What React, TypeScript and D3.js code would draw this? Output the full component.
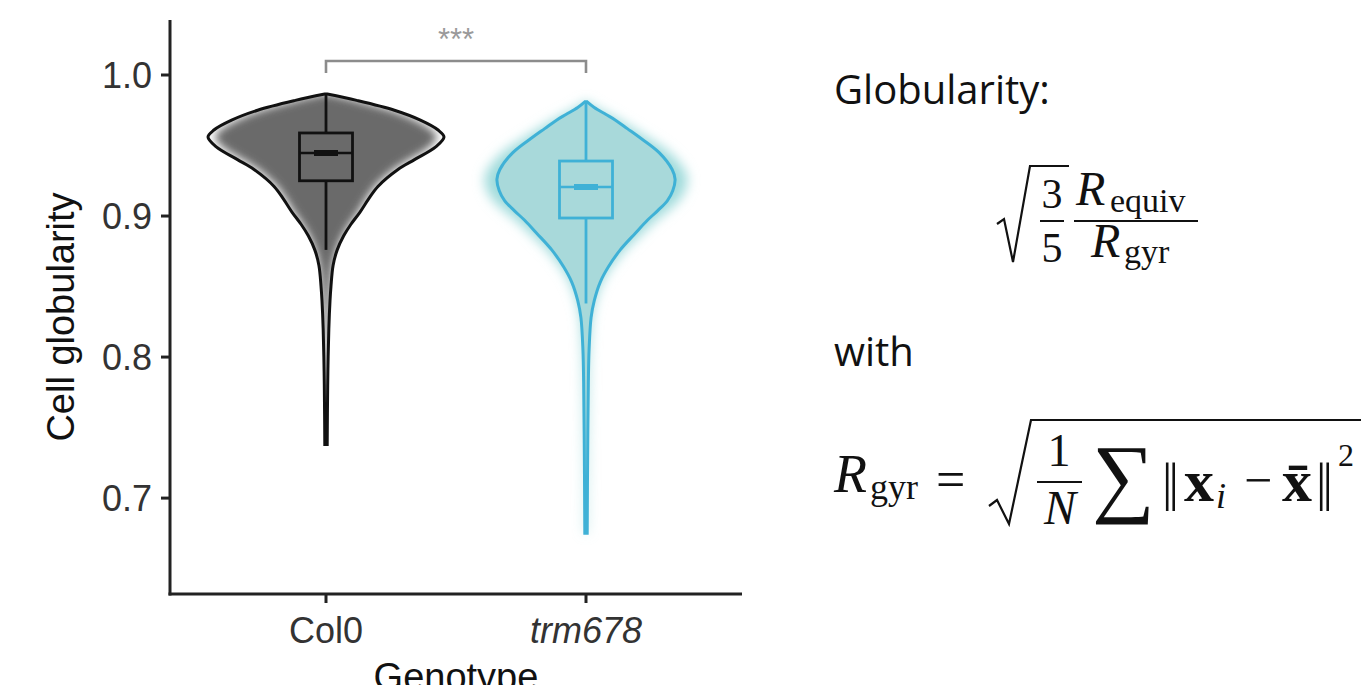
import React, { useRef, useEffect } from 'react'
import * as d3 from 'd3'

// genotypes on the x axis
const genotypes = ['Col0', 'trm678']

// violin outlines: value along y, relative density (Col0 peak = 1)
const col0Values = [0.9865, 0.982, 0.975, 0.968, 0.961, 0.956, 0.949, 0.940, 0.933, 0.921, 0.912, 0.903, 0.894, 0.886, 0.876, 0.865, 0.850, 0.840, 0.820, 0.790, 0.760, 0.738]
const col0Density = [0, 0.26, 0.58, 0.80, 0.95, 1.0, 0.93, 0.75, 0.61, 0.44, 0.36, 0.29, 0.21, 0.15, 0.095, 0.06, 0.042, 0.034, 0.024, 0.016, 0.012, 0.008]

const trmValues = [0.981, 0.977, 0.972, 0.968, 0.962, 0.956, 0.945, 0.933, 0.926, 0.918, 0.911, 0.904, 0.897, 0.888, 0.876, 0.864, 0.853, 0.840, 0.828, 0.805, 0.782, 0.730, 0.675]
const trmDensity = [0, 0.07, 0.17, 0.25, 0.35, 0.45, 0.62, 0.73, 0.755, 0.735, 0.69, 0.61, 0.52, 0.42, 0.29, 0.19, 0.12, 0.07, 0.043, 0.026, 0.02, 0.014, 0.01]

// box plot statistics [lower whisker, q1, median, q3, upper whisker]
const col0Box = [0.876, 0.925, 0.9447, 0.9589, 0.9865]
const trmBox = [0.838, 0.8986, 0.9206, 0.939, 0.981]

const yTicks = [0.7, 0.8, 0.9, 1.0]

const App = () => {
    const element = useRef(null)

    useEffect(() => {
        const root = d3.select(element.current)
        root.selectAll('*').remove()

        const svg = root.append('svg')
            .attr('width', 1361)
            .attr('height', 685)
            .style('position', 'absolute')
            .style('left', 0)
            .style('top', 0)
            .style('background', '#fff')

        const left = 170, right = 742, top = 20, bottom = 594

        const y = d3.scaleLinear().domain([0.632, 1.039]).range([bottom, top])
        const x = d3.scalePoint().domain(genotypes).range([left, right]).padding(0.6)
        const w = d3.scaleLinear().domain([0, 1]).range([0, 118])

        const defs = svg.append('defs')
        defs.append('filter').attr('id', 'glow').attr('x', '-30%').attr('y', '-30%').attr('width', '160%').attr('height', '160%')
            .append('feGaussianBlur').attr('stdDeviation', 6)
        defs.append('filter').attr('id', 'soft').attr('x', '-30%').attr('y', '-30%').attr('width', '160%').attr('height', '160%')
            .append('feGaussianBlur').attr('stdDeviation', 4.5)

        const violin = (cx, vals, dens, scaleW) => d3.area()
            .y((_, i) => y(vals[i]))
            .x0((_, i) => cx - Math.max(w(dens[i]) * scaleW, 1.2))
            .x1((_, i) => cx + Math.max(w(dens[i]) * scaleW, 1.2))
            .curve(d3.curveCatmullRom)(vals)

        const font = "'Liberation Sans', Arial, sans-serif"

        // ---- Col0 violin
        const c0 = x('Col0')
        defs.append('clipPath').attr('id', 'clip0').append('path').attr('d', violin(c0, col0Values, col0Density, 1))
        svg.append('path').attr('d', violin(c0, col0Values, col0Density, 1)).attr('fill', '#fff')
        svg.append('g').attr('clip-path', 'url(#clip0)')
            .append('path').attr('d', violin(c0, col0Values, col0Density, 0.94))
            .attr('fill', '#6a6a6a').attr('filter', 'url(#soft)')
        svg.append('path').attr('d', violin(c0, col0Values, col0Density, 1))
            .attr('fill', 'none').attr('stroke', '#111').attr('stroke-width', 3)

        // ---- trm678 violin
        const c1 = x('trm678')
        svg.append('path').attr('d', violin(c1, trmValues, trmDensity, 1.14))
            .attr('fill', '#a0dbdb').attr('filter', 'url(#glow)')
        svg.append('path').attr('d', violin(c1, trmValues, trmDensity, 1))
            .attr('fill', '#a8d9da')
            .attr('stroke', '#3fb1d6').attr('stroke-width', 3)

        // ---- box plots
        const box = (cx, st, color) => {
            const g = svg.append('g').attr('stroke', color).attr('fill', 'none')
            g.append('line').attr('x1', cx).attr('x2', cx).attr('y1', y(st[4])).attr('y2', y(st[3])).attr('stroke-width', 2.8)
            g.append('line').attr('x1', cx).attr('x2', cx).attr('y1', y(st[1])).attr('y2', y(st[0])).attr('stroke-width', 2.8)
            g.append('rect').attr('x', cx - 26.5).attr('width', 53)
                .attr('y', y(st[3])).attr('height', y(st[1]) - y(st[3])).attr('stroke-width', 2.8)
            g.append('line').attr('x1', cx - 26.5).attr('x2', cx + 26.5).attr('y1', y(st[2])).attr('y2', y(st[2])).attr('stroke-width', 2.6)
            g.append('line').attr('x1', cx - 12).attr('x2', cx + 12).attr('y1', y(st[2])).attr('y2', y(st[2])).attr('stroke-width', 6)
        }
        box(c0, col0Box, '#111')
        box(c1, trmBox, '#3fb1d6')

        // ---- significance bracket
        const by = 61
        svg.append('path')
            .attr('d', `M${c0},${by + 12}V${by}H${c1}V${by + 12}`)
            .attr('fill', 'none').attr('stroke', '#8c8c8c').attr('stroke-width', 2.6)
        svg.append('text').attr('x', (c0 + c1) / 2).attr('y', 50)
            .attr('text-anchor', 'middle').attr('font-family', font).attr('font-size', 31)
            .attr('fill', '#9a9a9a').text('***')

        // ---- axes
        const axes = svg.append('g').attr('stroke', '#222').attr('stroke-width', 3)
        axes.append('line').attr('x1', left).attr('x2', left).attr('y1', top).attr('y2', bottom + 1.5)
        axes.append('line').attr('x1', left - 1.5).attr('x2', right).attr('y1', bottom).attr('y2', bottom)
        yTicks.forEach(t => {
            axes.append('line').attr('x1', left - 9).attr('x2', left).attr('y1', y(t)).attr('y2', y(t))
            svg.append('text').attr('x', left - 18).attr('y', y(t)).attr('dy', '0.36em')
                .attr('text-anchor', 'end').attr('font-family', font).attr('font-size', 36)
                .attr('fill', '#333').text(d3.format('.1f')(t))
        })
        genotypes.forEach(g => {
            axes.append('line').attr('x1', x(g)).attr('x2', x(g)).attr('y1', bottom).attr('y2', bottom + 9)
            svg.append('text').attr('x', x(g)).attr('y', 643)
                .attr('text-anchor', 'middle').attr('font-family', font).attr('font-size', 36)
                .attr('font-style', g === 'Col0' ? 'normal' : 'italic')
                .attr('fill', '#333').text(g)
        })
        svg.append('text').attr('transform', `translate(74,${(top + bottom) / 2 + 10}) rotate(-90)`)
            .attr('text-anchor', 'middle').attr('font-family', font).attr('font-size', 38)
            .attr('fill', '#111').text('Cell globularity')
        svg.append('text').attr('x', (left + right) / 2).attr('y', 690)
            .attr('text-anchor', 'middle').attr('font-family', font).attr('font-size', 38)
            .attr('fill', '#111').text('Genotype')

        // ---- formulas on the right
        const sans = "'Open Sans', 'DejaVu Sans', sans-serif"
        const serif = "'Liberation Serif', 'DejaVu Serif', serif"
        const txt = (tx, ty, s, size, opts = {}) => {
            const t = svg.append('text').attr('x', tx).attr('y', ty)
                .attr('font-family', opts.family || serif).attr('font-size', size)
                .attr('fill', '#111').text(s)
            if (opts.italic) t.attr('font-style', 'italic')
            if (opts.bold) t.attr('font-weight', 'bold')
            if (opts.anchor) t.attr('text-anchor', opts.anchor)
            if (opts.ls) t.attr('letter-spacing', opts.ls)
            return t
        }
        const ink = svg.append('g').attr('stroke', '#111').attr('fill', 'none')

        txt(834, 104, 'Globularity:', 40, { family: sans })
        txt(834, 366, 'with', 40, { family: sans })

        // sqrt(3/5) R_equiv / R_gyr
        ink.append('path').attr('d', 'M997,224 L1004,219 L1013,262 L1030,166 L1069,166').attr('stroke-width', 2.2)
        txt(1052, 208, '3', 42, { anchor: 'middle' })
        ink.append('line').attr('x1', 1040).attr('x2', 1064).attr('y1', 221).attr('y2', 221).attr('stroke-width', 2)
        txt(1052, 262, '5', 42, { anchor: 'middle' })
        txt(1076, 205, 'R', 48, { italic: true })
        txt(1110, 212, 'equiv', 34)
        ink.append('line').attr('x1', 1074).attr('x2', 1198).attr('y1', 221).attr('y2', 221).attr('stroke-width', 2)
        txt(1091, 257, 'R', 48, { italic: true })
        txt(1124, 263, 'gyr', 34)

        // R_gyr = sqrt(1/N sum ||x_i - xbar||^2)
        txt(834, 492, 'R', 54, { italic: true })
        txt(870, 499, 'gyr', 36)
        txt(936, 497, '=', 52)
        ink.append('path').attr('d', 'M989,506 L997,500 L1009,524 L1031,420 L1361,420').attr('stroke-width', 2.2)
        txt(1059, 466, '1', 46, { anchor: 'middle' })
        ink.append('line').attr('x1', 1037).attr('x2', 1082).attr('y1', 482).attr('y2', 482).attr('stroke-width', 2)
        txt(1060, 524, 'N', 48, { italic: true, anchor: 'middle' })
        txt(1092, 506, '∑', 88)
        txt(1162, 500, '||', 52, { ls: -4 })
        txt(1184, 501, 'x', 60, { bold: true })
        txt(1216, 508, 'i', 36, { italic: true })
        txt(1244, 497, '−', 50)
        txt(1282, 501, 'x̄', 60, { bold: true })
        txt(1316, 500, '||', 52, { ls: -4 })
        txt(1338, 466, '2', 32)
    }, [])

    return (
        <div ref={element}></div>
    )
}

export default App
